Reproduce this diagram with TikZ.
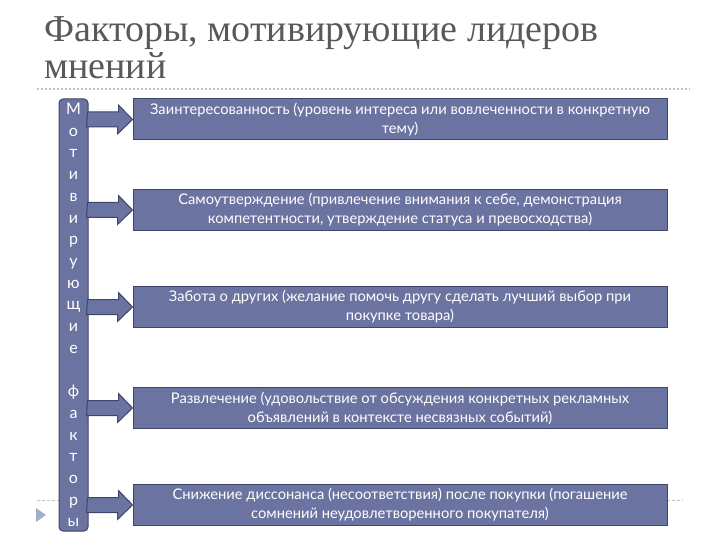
\documentclass[tikz,border=0pt]{standalone}
\usepackage{fontspec}
\setmainfont{Liberation Serif}
\newfontfamily\boxfont{Lato}
\usetikzlibrary{calc}

\definecolor{boxfill}{RGB}{107,115,161}
\definecolor{boxline}{RGB}{62,70,106}
\definecolor{titlegray}{RGB}{89,89,89}
\definecolor{rulegray}{RGB}{195,195,195}
\definecolor{bulletblue}{RGB}{160,175,200}

\begin{document}
\begin{tikzpicture}[x=1pt, y=-1pt,
  factor/.style={draw=boxline, fill=boxfill, text=white, line width=1pt,
    minimum width=534pt, minimum height=41pt, inner sep=0pt, align=center,
    font=\boxfont\fontsize{14.7}{19}\selectfont},
  feed/.style={draw=boxline, fill=boxfill, line width=1pt, line join=miter}
]
  \useasboundingbox (0,0) rectangle (720,540);

  % title and rules
  \node[anchor=north west, align=left, text=titlegray, inner sep=0pt,
    font=\fontsize{38}{37.5}\selectfont] (title) at (44,16)
    {Факторы, мотивирующие лидеров\\мнений};
  \draw[rulegray, line width=1.2pt, dash pattern=on 2pt off 2pt] (37,89) -- (690,89);
  \draw[rulegray, line width=0.8pt, dash pattern=on 3pt off 2pt] (37,500) -- (683,500);
  \fill[bulletblue] (36,508) -- (46,515) -- (36,522) -- cycle;

  % motivating factors
  \node[factor] (fac1) at (400,119.5) {Заинтересованность (уровень интереса или вовлеченности в конкретную\\тему)};
  \node[factor] (fac2) at (400,210) {Самоутверждение (привлечение внимания к себе, демонстрация\\компетентности, утверждение статуса и превосходства)};
  \node[factor] (fac3) at (400,307) {Забота о других (желание помочь другу сделать лучший выбор при\\покупке товара)};
  \node[factor] (fac4) at (400,408) {Развлечение (удовольствие от обсуждения конкретных рекламных\\объявлений в контексте несвязных событий)};
  \node[factor] (fac5) at (400,505) {Снижение диссонанса (несоответствия) после покупки (погашение\\сомнений неудовлетворенного покупателя)};

  \node[draw=boxline, fill=boxfill, text=white, line width=1pt, rounded corners=4pt,
    minimum width=29pt, minimum height=432pt, inner sep=0pt, align=center,
    font=\boxfont\fontsize{16}{21.7}\selectfont] (bar) at (73.5,315)
    {М\\о\\т\\и\\в\\и\\р\\у\\ю\\щ\\и\\е\\\mbox{}\\ф\\а\\к\\т\\о\\р\\ы};

  \foreach \i in {1,...,5}
    \draw[feed] (bar.east |- fac\i.west) ++(-1,-7.5) -- ++(31,0) -- ++(0,-7)
      -- (fac\i.west) -- ++(-15,14.5) -- ++(0,-7) -- ++(-31,0) -- cycle;
\end{tikzpicture}
\end{document}
